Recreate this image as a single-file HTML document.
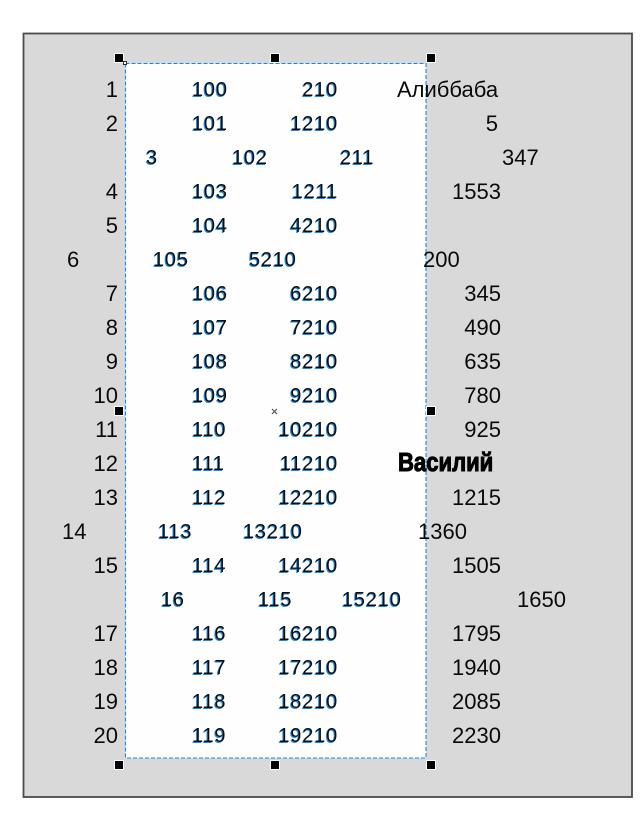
<!DOCTYPE html>
<html><head><meta charset="utf-8"><style>
html,body{margin:0;padding:0;background:#fff;}
svg{display:block;}
.g{font-family:"Liberation Sans",sans-serif;font-size:22px;fill:#0a0a0a;}
.w{font-family:"Liberation Sans",sans-serif;font-size:20px;fill:#0a0a0a;letter-spacing:0.8px;}
.e{text-anchor:end;}
</style></head><body>
<svg width="643" height="819" viewBox="0 0 643 819" xmlns="http://www.w3.org/2000/svg">
<defs>
<filter id="sh" x="-5%" y="-5%" width="110%" height="110%">
<feFlood flood-color="#1e88e5" result="f"/>
<feComposite in="f" in2="SourceAlpha" operator="in" result="c"/>
<feOffset in="c" dx="-1" dy="1" result="o"/>
<feMerge><feMergeNode in="o"/><feMergeNode in="SourceGraphic"/></feMerge>
</filter>
</defs>
<rect x="0" y="0" width="643" height="819" fill="#fff"/>
<rect x="23.5" y="33.5" width="608.5" height="763.5" fill="#d9d9d9" stroke="#4a4a4a" stroke-width="1.8"/>
<rect x="125.5" y="63.5" width="300.5" height="694.5" fill="#fefefe"/>
<rect x="125.5" y="63.5" width="300.5" height="694.5" fill="none" stroke="#1589f0" stroke-width="1.1" stroke-dasharray="4,2"/>

<!-- gray column texts -->
<g class="g">
<text x="118" y="97" class="e">1</text>
<text x="118" y="131" class="e">2</text>
<text x="118" y="199" class="e">4</text>
<text x="118" y="233" class="e">5</text>
<text x="67" y="267">6</text>
<text x="118" y="301" class="e">7</text>
<text x="118" y="335" class="e">8</text>
<text x="118" y="369" class="e">9</text>
<text x="118" y="403" class="e">10</text>
<text x="118" y="437" class="e">11</text>
<text x="118" y="471" class="e">12</text>
<text x="118" y="505" class="e">13</text>
<text x="62" y="539">14</text>
<text x="118" y="573" class="e">15</text>
<text x="118" y="641" class="e">17</text>
<text x="118" y="675" class="e">18</text>
<text x="118" y="709" class="e">19</text>
<text x="118" y="743" class="e">20</text>

<text x="397" y="97">Алиббаба</text>
<text x="498" y="131" class="e">5</text>
<text x="502" y="165">347</text>
<text x="501" y="199" class="e">1553</text>
<text x="423" y="267">200</text>
<text x="501" y="301" class="e">345</text>
<text x="501" y="335" class="e">490</text>
<text x="501" y="369" class="e">635</text>
<text x="501" y="403" class="e">780</text>
<text x="501" y="437" class="e">925</text>
<text x="501" y="505" class="e">1215</text>
<text x="418" y="539">1360</text>
<text x="501" y="573" class="e">1505</text>
<text x="517" y="607">1650</text>
<text x="501" y="641" class="e">1795</text>
<text x="501" y="675" class="e">1940</text>
<text x="501" y="709" class="e">2085</text>
<text x="501" y="743" class="e">2230</text>
</g>

<text x="398" y="471" transform="translate(398 0) scale(0.85 1) translate(-398 0)" style="font-family:'Liberation Sans',sans-serif;font-size:26px;font-weight:bold;fill:#000;stroke:#000;stroke-width:1;">Василий</text>

<!-- white area texts with blue shadow -->
<g class="w" filter="url(#sh)">
<text x="192" y="96">100</text><text x="338" y="96" class="e">210</text>
<text x="192" y="130">101</text><text x="338" y="130" class="e">1210</text>
<text x="146" y="164">3</text><text x="232" y="164">102</text><text x="340" y="164">211</text>
<text x="192" y="198">103</text><text x="338" y="198" class="e">1211</text>
<text x="192" y="232">104</text><text x="338" y="232" class="e">4210</text>
<text x="153" y="266">105</text><text x="249" y="266">5210</text>
<text x="192" y="300">106</text><text x="338" y="300" class="e">6210</text>
<text x="192" y="334">107</text><text x="338" y="334" class="e">7210</text>
<text x="192" y="368">108</text><text x="338" y="368" class="e">8210</text>
<text x="192" y="402">109</text><text x="338" y="402" class="e">9210</text>
<text x="192" y="436">110</text><text x="338" y="436" class="e">10210</text>
<text x="192" y="470">111</text><text x="338" y="470" class="e">11210</text>
<text x="192" y="504">112</text><text x="338" y="504" class="e">12210</text>
<text x="158" y="538">113</text><text x="243" y="538">13210</text>
<text x="192" y="572">114</text><text x="338" y="572" class="e">14210</text>
<text x="161" y="606">16</text><text x="258" y="606">115</text><text x="342" y="606">15210</text>
<text x="192" y="640">116</text><text x="338" y="640" class="e">16210</text>
<text x="192" y="674">117</text><text x="338" y="674" class="e">17210</text>
<text x="192" y="708">118</text><text x="338" y="708" class="e">18210</text>
<text x="192" y="742">119</text><text x="338" y="742" class="e">19210</text>
</g>

<!-- handles -->
<g fill="#000" stroke="#fff" stroke-width="1">
<rect x="114.5" y="53.5" width="9" height="9"/>
<rect x="270.5" y="53.5" width="9" height="9"/>
<rect x="426.5" y="53.5" width="9" height="9"/>
<rect x="114.5" y="406.5" width="9" height="9"/>
<rect x="426.5" y="406.5" width="9" height="9"/>
<rect x="114.5" y="760.5" width="9" height="9"/>
<rect x="270.5" y="760.5" width="9" height="9"/>
<rect x="426.5" y="760.5" width="9" height="9"/>
</g>
<rect x="123.5" y="61.5" width="3" height="3" fill="#fff" stroke="#000" stroke-width="0.8"/>
<g stroke="#555" stroke-width="1.2">
<line x1="272" y1="409" x2="277" y2="414"/>
<line x1="277" y1="409" x2="272" y2="414"/>
</g>
</svg>
</body></html>
